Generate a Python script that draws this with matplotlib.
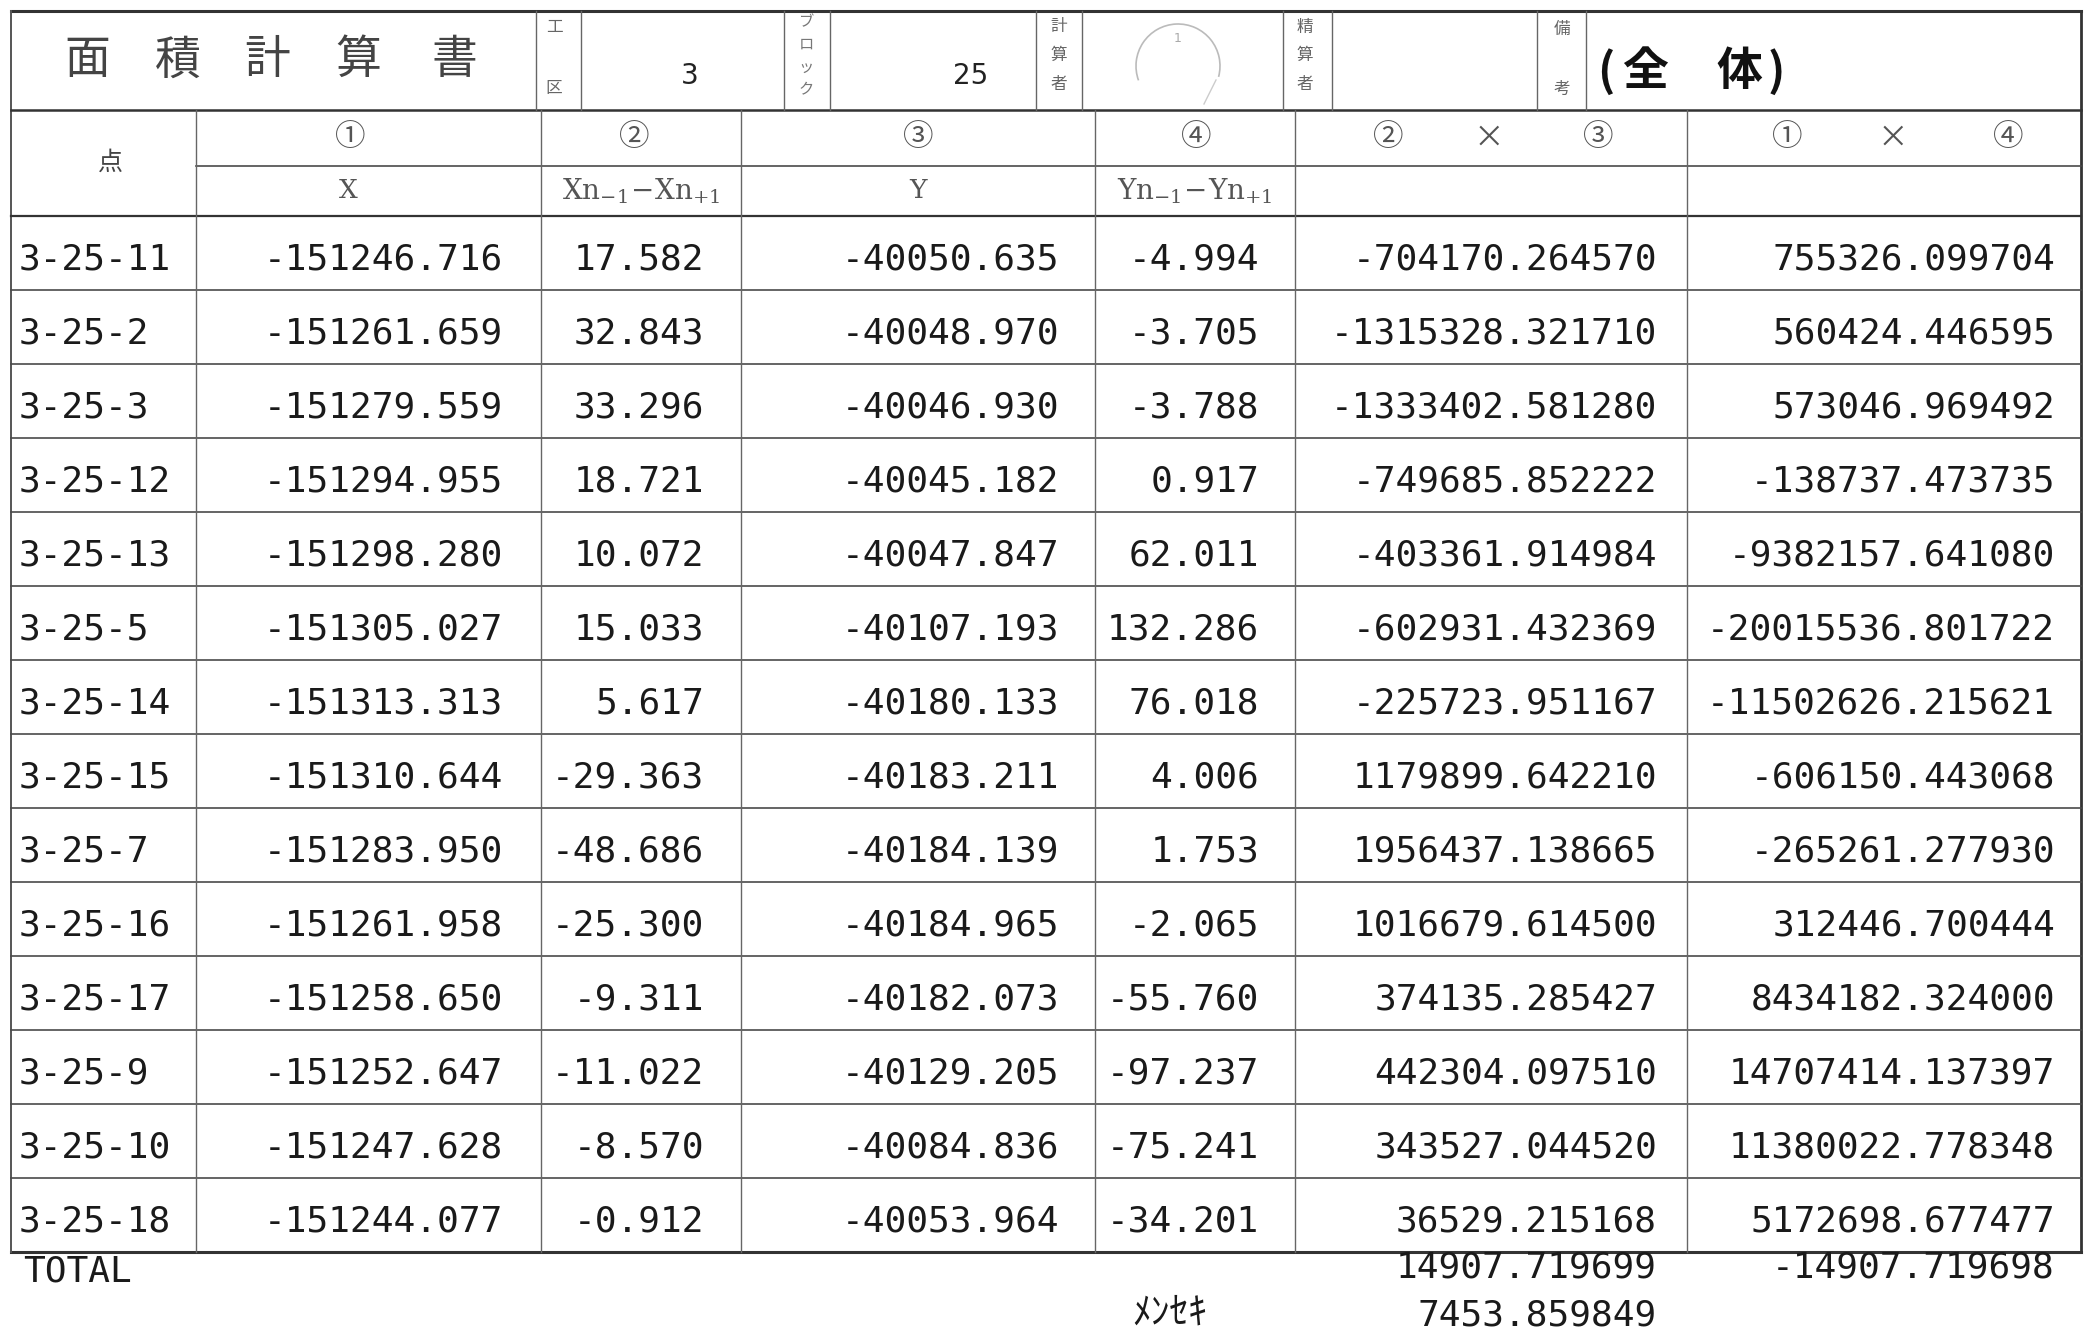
import matplotlib
matplotlib.use('Agg')
matplotlib.rcParams['mathtext.fontset'] = 'dejavuserif'
import matplotlib.pyplot as plt
from matplotlib.patches import Arc

# ---- data ----
points = ['3-25-11', '3-25-2', '3-25-3', '3-25-12', '3-25-13', '3-25-5', '3-25-14',
          '3-25-15', '3-25-7', '3-25-16', '3-25-17', '3-25-9', '3-25-10', '3-25-18']
x_vals = [-151246.716, -151261.659, -151279.559, -151294.955, -151298.280, -151305.027,
          -151313.313, -151310.644, -151283.950, -151261.958, -151258.650, -151252.647,
          -151247.628, -151244.077]
dx_vals = [17.582, 32.843, 33.296, 18.721, 10.072, 15.033, 5.617, -29.363, -48.686,
           -25.300, -9.311, -11.022, -8.570, -0.912]
y_vals = [-40050.635, -40048.970, -40046.930, -40045.182, -40047.847, -40107.193,
          -40180.133, -40183.211, -40184.139, -40184.965, -40182.073, -40129.205,
          -40084.836, -40053.964]
dy_vals = [-4.994, -3.705, -3.788, 0.917, 62.011, 132.286, 76.018, 4.006, 1.753,
           -2.065, -55.760, -97.237, -75.241, -34.201]
p23_vals = ['-704170.264570', '-1315328.321710', '-1333402.581280', '-749685.852222',
            '-403361.914984', '-602931.432369', '-225723.951167', '1179899.642210',
            '1956437.138665', '1016679.614500', '374135.285427', '442304.097510',
            '343527.044520', '36529.215168']
p14_vals = ['755326.099704', '560424.446595', '573046.969492', '-138737.473735',
            '-9382157.641080', '-20015536.801722', '-11502626.215621', '-606150.443068',
            '-265261.277930', '312446.700444', '8434182.324000', '14707414.137397',
            '11380022.778348', '5172698.677477']
total_23 = '14907.719699'
total_14 = '-14907.719698'
area = '7453.859849'
kouku = '3'
block = '25'

CJK = ['Noto Sans CJK JP', 'DejaVu Sans']
MONO = 'DejaVu Sans Mono'
LC = '#4a4a4a'
TC = '#1a1a1a'

fig = plt.figure(figsize=(20.94, 13.30), dpi=100)
ax = fig.add_axes([0, 0, 1, 1])
ax.set_xlim(0, 2094)
ax.set_ylim(1330, 0)
ax.axis('off')

# ---- grid geometry ----
L, R = 11, 2081
top, h1, hsub, hbot = 11, 110, 166, 216
rowh = 74
nrows = len(points)
bottom = hbot + nrows * rowh
cols = [L, 196, 541, 741, 1095, 1295, 1687, R]
head_cols = [L, 536, 581, 784, 830, 1036, 1082, 1283, 1332, 1537, 1586, R]

# outer frame
ax.plot([L, R], [top, top], color='#333', lw=2.2)
ax.plot([L, R], [bottom, bottom], color='#333', lw=2.2)
ax.plot([L, L], [top, bottom], color='#555', lw=1.4)
ax.plot([R, R], [top, bottom], color='#333', lw=2.0)
ax.plot([L, R], [h1, h1], color='#333', lw=1.8)
ax.plot([cols[1], R], [hsub, hsub], color=LC, lw=1.2)
ax.plot([L, R], [hbot, hbot], color='#333', lw=1.6)
for i in range(1, nrows):
    yy = hbot + i * rowh
    ax.plot([L, R], [yy, yy], color=LC, lw=1.2)
for c in cols[1:-1]:
    ax.plot([c, c], [h1, bottom], color='#666', lw=1.0)
for c in head_cols[1:-1]:
    ax.plot([c, c], [top, h1], color='#666', lw=1.0)

# ---- title row ----
for ch, cx in zip('面積計算書', [87, 178, 267, 358, 454]):
    ax.text(cx, 60, ch, family=CJK, fontsize=33, color='#444', ha='center', va='center')
ax.text(554, 27, '工', family=CJK, fontsize=12, color='#666', ha='center', va='center')
ax.text(554, 89, '区', family=CJK, fontsize=12, color='#666', ha='center', va='center')
for ch, cy in zip('ブロック', [22, 44, 67, 90]):
    ax.text(806, cy, ch, family=CJK, fontsize=11, color='#777', ha='center', va='center')
for cx in [1059, 1305]:
    lab = '計算者' if cx == 1059 else '精算者'
    for ch, cy in zip(lab, [27, 55, 84]):
        ax.text(cx, cy, ch, family=CJK, fontsize=12, color='#666', ha='center', va='center')
ax.text(1562, 29, '備', family=CJK, fontsize=12, color='#666', ha='center', va='center')
ax.text(1562, 89, '考', family=CJK, fontsize=12, color='#666', ha='center', va='center')
ax.text(690, 84, kouku, family='DejaVu Sans', fontsize=20, color='#222', ha='center', va='baseline')
ax.text(971, 84, block, family='DejaVu Sans', fontsize=20, color='#222', ha='center', va='baseline')
for ch, cx in [('(', 1606), ('全', 1645), ('体', 1739), (')', 1776)]:
    ax.text(cx, 72, ch, family=CJK, fontsize=33, fontweight='bold', color='#111',
            ha='center', va='center')
# faint stamp (y axis is inverted, so the top arc lies at angles 160..370)
ax.add_patch(Arc((1178, 66), 84, 84, theta1=160, theta2=375, color='#bbb', lw=1.2))
ax.plot([1216, 1204], [80, 104], color='#ccc', lw=1.0)
ax.text(1178, 38, '1', family='DejaVu Sans', fontsize=9, color='#aaa', ha='center', va='center')

# ---- column headers ----
ax.text(110, 163, '点', family=CJK, fontsize=18, color='#444', ha='center', va='center')
for s, cx in [('①', 350), ('②', 634), ('③', 918), ('④', 1196),
              ('②', 1388), ('×', 1489), ('③', 1598),
              ('①', 1787), ('×', 1893), ('④', 2008)]:
    ax.text(cx, 138, s, family=CJK, fontsize=22, color='#555', ha='center', va='center')
ax.text(348, 191, 'X', family='DejaVu Serif', fontsize=19, color='#555', ha='center', va='center')
ax.text(918, 191, 'Y', family='DejaVu Serif', fontsize=19, color='#555', ha='center', va='center')
ax.text(641, 191, r'$\mathrm{Xn}_{-1}\!-\!\mathrm{Xn}_{+1}$', fontsize=20, color='#555',
        ha='center', va='center')
ax.text(1195, 191, r'$\mathrm{Yn}_{-1}\!-\!\mathrm{Yn}_{+1}$', fontsize=20, color='#555',
        ha='center', va='center')

# ---- data rows ----
fs = 26
for i in range(nrows):
    base = hbot + i * rowh + 54
    ax.text(19, base, points[i], family=MONO, fontsize=fs, color=TC, ha='left', va='baseline')
    ax.text(503, base, '%.3f' % x_vals[i], family=MONO, fontsize=fs, color=TC, ha='right', va='baseline')
    ax.text(704, base, '%.3f' % dx_vals[i], family=MONO, fontsize=fs, color=TC, ha='right', va='baseline')
    ax.text(1059, base, '%.3f' % y_vals[i], family=MONO, fontsize=fs, color=TC, ha='right', va='baseline')
    ax.text(1259, base, '%.3f' % dy_vals[i], family=MONO, fontsize=fs, color=TC, ha='right', va='baseline')
    ax.text(1657, base, p23_vals[i], family=MONO, fontsize=fs, color=TC, ha='right', va='baseline')
    ax.text(2055, base, p14_vals[i], family=MONO, fontsize=fs, color=TC, ha='right', va='baseline')

# ---- totals ----
ax.text(23, 1281, 'TOTAL', family=MONO, fontsize=fs, color=TC, ha='left', va='baseline')
ax.text(1657, 1278, total_23, family=MONO, fontsize=fs, color=TC, ha='right', va='baseline')
ax.text(2055, 1278, total_14, family=MONO, fontsize=fs, color=TC, ha='right', va='baseline')
ax.text(1132, 1324, 'ﾒﾝｾｷ', family=CJK, fontsize=27, color=TC, ha='left', va='baseline')
ax.text(1657, 1326, area, family=MONO, fontsize=fs, color=TC, ha='right', va='baseline')

plt.savefig('out.png', dpi=100)
plt.close()
